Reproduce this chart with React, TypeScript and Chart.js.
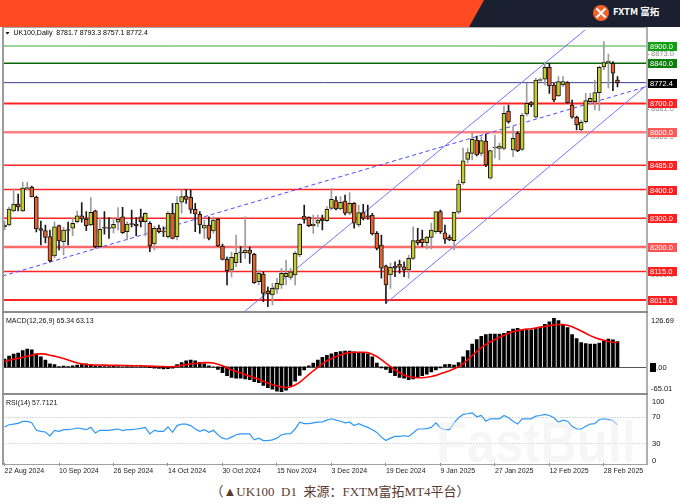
import React, { useEffect, useRef } from "react";
import { Chart, registerables } from "chart.js";

Chart.register(...registerables);

const FONT = "'Liberation Sans', Arial, sans-serif";

// ---------- data ----------
const tickDates = ["22 Aug 2024", "10 Sep 2024", "26 Sep 2024", "14 Oct 2024", "30 Oct 2024", "15 Nov 2024", "3 Dec 2024", "19 Dec 2024", "9 Jan 2025", "27 Jan 2025", "12 Feb 2025", "28 Feb 2025"];
const tickIndices = [0, 12, 24, 36, 48, 60, 72, 84, 96, 108, 120, 132];

const opens = [8269.8, 8276.7, 8325.5, 8349.9, 8325.5, 8403.8, 8409.1, 8374.2, 8264.6, 8256.9,
  8236.0, 8168.8, 8274.3, 8218.6, 8259.3, 8265.3, 8288.2, 8309.1, 8296.6, 8276.7,
  8326.5, 8201.2, 8268.0, 8266.3, 8265.3, 8286.2, 8305.6, 8253.4, 8282.0, 8280.2,
  8305.6, 8288.2, 8282.7, 8210.6, 8265.3, 8253.4, 8236.0, 8317.5, 8236.0, 8355.8,
  8377.7, 8373.2, 8331.4, 8314.0, 8265.3, 8276.7, 8255.9, 8296.6, 8203.6, 8157.3,
  8120.1, 8145.5, 8180.3, 8180.3, 8189.7, 8174.7, 8079.3, 8106.1, 8046.9, 8033.0,
  8052.9, 8067.8, 8096.7, 8094.6, 8102.6, 8172.3, 8308.1, 8303.6, 8273.3, 8282.7,
  8296.6, 8291.7, 8334.9, 8361.4, 8332.5, 8360.3, 8317.5, 8352.3, 8276.7, 8319.6,
  8307.0, 8311.6, 8247.8, 8207.1, 8135.0, 8102.6, 8134.0, 8139.9, 8131.5, 8120.1,
  8160.8, 8224.5, 8228.0, 8215.1, 8233.9, 8253.4, 8323.1, 8249.9, 8233.9, 8222.1,
  8321.0, 8423.0, 8505.5, 8526.4, 8572.7, 8526.4, 8569.2, 8439.4, 8544.9, 8543.8,
  8543.8, 8673.7, 8537.9, 8596.1, 8540.3, 8663.3, 8702.6, 8651.8, 8779.9, 8784.1,
  8825.9, 8764.2, 8725.9, 8764.2, 8772.2, 8694.6, 8651.8, 8607.5, 8636.4, 8706.1,
  8706.1, 8737.4, 8826.9, 8842.6, 8839.8, 8781.7];

const highs = [8290.7, 8339.4, 8402.1, 8384.7, 8426.5, 8426.5, 8412.5, 8377.7, 8290.7, 8276.7,
  8259.3, 8288.2, 8276.7, 8269.8, 8287.2, 8302.2, 8325.5, 8354.4, 8323.1, 8371.8,
  8329.0, 8300.1, 8323.1, 8302.2, 8301.1, 8337.0, 8338.4, 8288.2, 8329.0, 8302.2,
  8332.5, 8319.6, 8288.2, 8273.3, 8276.7, 8270.8, 8323.1, 8352.3, 8375.3, 8398.6,
  8401.1, 8398.6, 8352.3, 8323.1, 8294.2, 8305.6, 8305.6, 8300.1, 8210.6, 8165.3,
  8182.7, 8241.9, 8201.2, 8305.6, 8200.1, 8178.2, 8120.1, 8114.1, 8060.9, 8073.7,
  8091.2, 8126.0, 8154.9, 8126.0, 8183.8, 8282.7, 8346.4, 8305.6, 8311.6, 8311.6,
  8311.6, 8340.5, 8404.5, 8375.3, 8375.3, 8381.2, 8389.2, 8354.4, 8346.4, 8348.8,
  8346.4, 8317.5, 8253.4, 8241.9, 8137.5, 8144.4, 8148.9, 8154.9, 8148.9, 8172.3,
  8270.8, 8265.3, 8259.3, 8238.4, 8283.7, 8317.5, 8329.0, 8276.7, 8241.9, 8322.0,
  8433.4, 8544.9, 8544.9, 8597.1, 8586.6, 8584.2, 8593.6, 8537.9, 8590.1, 8562.3,
  8691.1, 8694.6, 8619.0, 8601.6, 8665.7, 8770.2, 8706.1, 8787.6, 8788.6, 8839.8,
  8839.8, 8770.2, 8793.1, 8793.1, 8775.7, 8712.0, 8656.3, 8642.4, 8735.3, 8735.3,
  8781.6, 8830.4, 8915.0, 8872.2, 8845.4, 8793.3];

const lows = [8259.3, 8273.3, 8322.0, 8325.5, 8322.0, 8398.6, 8374.2, 8252.4, 8207.1, 8214.1,
  8147.9, 8161.8, 8189.7, 8172.3, 8207.1, 8239.5, 8283.7, 8286.2, 8256.9, 8273.3,
  8196.7, 8198.4, 8244.4, 8230.4, 8248.9, 8259.3, 8247.1, 8224.5, 8269.8, 8239.5,
  8269.8, 8238.4, 8183.8, 8189.7, 8248.9, 8236.0, 8230.4, 8228.0, 8224.5, 8317.5,
  8352.3, 8317.5, 8253.4, 8247.8, 8230.4, 8224.5, 8247.8, 8201.2, 8154.9, 8067.8,
  8095.7, 8131.5, 8145.5, 8160.8, 8143.4, 8073.7, 8067.8, 8009.7, 7992.3, 7998.2,
  8038.9, 8056.3, 8067.8, 8085.2, 8067.8, 8166.4, 8282.7, 8270.8, 8247.8, 8270.8,
  8259.3, 8288.2, 8329.0, 8329.0, 8329.0, 8311.6, 8311.6, 8265.3, 8270.8, 8294.2,
  8296.6, 8241.9, 8189.7, 8091.2, 8004.1, 8056.3, 8096.7, 8108.6, 8096.7, 8091.2,
  8154.9, 8207.1, 8201.2, 8193.2, 8193.2, 8247.8, 8247.8, 8213.0, 8222.1, 8189.7,
  8315.1, 8417.8, 8492.6, 8503.1, 8517.0, 8517.0, 8479.8, 8435.9, 8510.0, 8503.1,
  8537.9, 8630.9, 8514.6, 8532.0, 8535.5, 8656.3, 8688.7, 8648.3, 8776.4, 8764.2,
  8735.3, 8706.1, 8723.5, 8758.3, 8700.5, 8648.3, 8607.5, 8601.6, 8630.9, 8698.1,
  8677.2, 8674.7, 8816.5, 8753.8, 8744.4, 8757.1];

const closes = [8276.7, 8332.5, 8349.9, 8339.4, 8405.6, 8405.6, 8374.2, 8262.8, 8257.6, 8233.9,
  8151.4, 8270.8, 8221.0, 8259.3, 8257.6, 8282.7, 8309.1, 8297.6, 8274.3, 8321.0,
  8201.2, 8261.8, 8265.3, 8264.6, 8279.2, 8296.6, 8249.9, 8280.2, 8278.5, 8273.3,
  8288.2, 8317.5, 8203.6, 8265.3, 8253.4, 8252.4, 8317.5, 8230.4, 8352.3, 8375.3,
  8366.2, 8331.4, 8315.1, 8276.7, 8276.7, 8230.4, 8294.2, 8203.6, 8157.3, 8117.6,
  8164.3, 8178.2, 8179.2, 8189.7, 8178.2, 8075.8, 8108.6, 8038.9, 8036.5, 8056.3,
  8073.7, 8108.6, 8108.6, 8114.1, 8178.2, 8279.2, 8296.6, 8274.3, 8280.2, 8294.2,
  8291.7, 8331.4, 8366.2, 8332.5, 8355.8, 8317.5, 8352.3, 8282.7, 8319.6, 8300.1,
  8305.6, 8245.4, 8195.6, 8126.0, 8067.8, 8129.5, 8126.0, 8129.5, 8120.1, 8160.8,
  8222.1, 8215.1, 8214.1, 8235.0, 8259.3, 8323.1, 8253.4, 8227.0, 8224.5, 8321.0,
  8419.5, 8500.6, 8528.5, 8575.2, 8520.5, 8570.3, 8485.7, 8535.5, 8548.3, 8551.8,
  8665.7, 8636.4, 8578.6, 8535.5, 8659.8, 8700.5, 8694.6, 8781.6, 8781.6, 8825.9,
  8760.7, 8712.0, 8775.7, 8775.7, 8702.6, 8651.8, 8624.9, 8634.4, 8709.6, 8717.9,
  8737.4, 8825.9, 8842.6, 8847.8, 8805.0, 8772.4];

const macdHist = [20.5, 28, 33, 36, 42.6, 46, 44, 34, 26, 18,
  8, 6, 1, 2, 1, 3, 5, 6, 8, 6.5,
  3, 2, 1, 1, 2, 1, 0.5, 1, 1, 0.5,
  1, 1.5, -2, -3, -4, -5, -4.5, -3, 6, 11.5,
  16, 18, 16, 12, 8, 3, 0.5, -6.5, -15, -23,
  -27, -29, -29.5, -31, -33, -38, -41, -48, -54, -58,
  -63, -65.01, -60, -50, -37, -22, -8, 3, 10, 18,
  24.5, 30, 34, 37.7, 40, 41, 41, 39, 37, 37,
  34, 26, 10, -2.5, -6.5, -15, -23, -27, -29.5, -33,
  -31, -27, -23, -19, -13, -8, -2.5, 6, 6.5, 5,
  11.5, 26, 42.6, 59, 71, 79.4, 83.5, 85, 85, 85,
  87, 92, 98, 100, 95, 96, 96, 100, 101.6, 110,
  117, 126.69, 120, 108, 101.6, 83.5, 73.7, 63, 60.6, 59,
  59, 62, 67, 72, 70.4, 65.34];

const macdSignal = [14, 17, 20, 22, 25, 28, 30, 33, 34, 33,
  30, 28, 25, 22, 18, 14, 10, 8, 6, 5.5,
  5, 5, 4.5, 4, 4, 4, 3.5, 3.5, 3, 3,
  3, 2.5, 2, 1.5, 1, 1, 0.5, 0.5, 2, 4,
  6, 7.5, 9, 10, 11, 11, 10, 7, 3, -2,
  -8, -12, -16, -20, -24, -28, -32, -37, -42, -46,
  -49, -52, -53, -52, -47, -40, -30, -20, -10, -1,
  8, 16, 22, 27, 31, 35, 37, 38, 38, 38,
  37, 33, 27, 19, 10, 1, -8, -15, -21, -25,
  -27, -28, -28, -27, -25, -22, -18, -14, -10, -5,
  0, 8, 18, 29, 40, 50, 58, 65, 71, 77,
  82, 87, 91, 94, 96, 98, 99, 101, 103, 105,
  107, 109, 110, 110, 108, 104, 99, 93, 87, 81,
  76, 72, 69, 66, 64, 63.13];

const rsiValues = [54.6, 58, 59, 60, 63, 63, 61, 49.5, 48, 47,
  41, 49.5, 48, 50.5, 50.5, 51.5, 53, 52, 50.5, 54,
  45.4, 49.5, 49.5, 49.5, 50.5, 51.5, 49, 50.5, 50.5, 51.5,
  52.5, 54, 44, 49.5, 48, 48, 54.6, 46.4, 56.7, 59,
  59, 56.7, 51.5, 48, 50.5, 46.4, 49.5, 42.8, 37.7, 36,
  39.2, 42.8, 44, 44, 44, 35, 37.7, 34, 34, 35,
  37.7, 42.8, 44, 44.4, 51.5, 61.8, 59.7, 59.7, 60.8, 61.8,
  62.3, 64.9, 67, 64.9, 63.3, 60.8, 61.8, 56.7, 59.7, 56.7,
  54, 50.5, 46.4, 39.2, 34, 37.7, 40.3, 40.3, 41.3, 40.3,
  45.4, 51.5, 51.5, 52, 54, 60.8, 53, 50.5, 50.5, 60.8,
  68.5, 73.6, 74.6, 76, 70, 72, 63.3, 67, 67, 67,
  72, 68.5, 63.3, 59, 67, 67, 67, 71, 72, 73.6,
  72, 68.5, 61.8, 64.9, 63.3, 55.6, 51.5, 51.5, 55.6, 59,
  59.7, 65.9, 67, 65.9, 64.4, 57.7121];

const levelPrices = [8900, 8840, 8772.4, 8700, 8600, 8485, 8400, 8300, 8200, 8115, 8015.6];
const priceScaleTicks = [8873, 8777, 8681, 8585, 8489, 8393, 8297, 8201, 8105, 8009];
const channelUpper = [{ x: 53.0, y: 7977.3 }, { x: 128.39, y: 8962.7 }];
const channelLower = [{ x: 84, y: 8004.1 }, { x: 141.5, y: 8764.2 }];
const trendDashed = [{ x: -0.45, y: 8099 }, { x: 141.5, y: 8759 }];
const macdRange = [-65.01, 126.69];
const rsiGuides = [70, 30];
const rsiAxisLabels = [100, 70, 30, 0];

// ---------- styles ----------
const X_MIN = -0.45;
const X_MAX = 141.5;
const BULL = "#c5cd2d";
const BEAR = "#e3632b";
const levelLineColors = ["#38a838", "#0b650b", "#3d3d90", "#ff2424", "#ff8080", "#ff2424", "#ff2424", "#ff2424", "#ff6a6a", "#ff2424", "#ff2424"];
const levelLineWidths = [1, 1.5, 1, 2, 2.5, 1.5, 1.5, 1.5, 2.5, 1.5, 2];
const levelBoxColors = ["#12a012", "#0a7f0a", "#000000", "#ff1f1f", "#ff5a5a", "#ff1f1f", "#ff1f1f", "#ff1f1f", "#ff5252", "#ff1f1f", "#ff1f1f"];

const xScale = (extra: any = {}) => ({ type: "linear", min: X_MIN, max: X_MAX, offset: false, display: false, ...extra });

export default function App() {
  const mainRef = useRef<HTMLCanvasElement>(null);
  const macdRef = useRef<HTMLCanvasElement>(null);
  const rsiRef = useRef<HTMLCanvasElement>(null);

  useEffect(() => {
    Chart.defaults.font.family = FONT;
    const n = closes.length;
    const idx = closes.map((_, i) => i);
    const up = idx.map((i) => closes[i] >= opens[i]);

    const mainOverlay = {
      id: "mainOverlay",
      afterDraw(chart: any) {
        const { ctx } = chart;
        const y = chart.scales.y;
        ctx.save();
        ctx.textBaseline = "middle";
        ctx.textAlign = "left";
        ctx.font = `7.5px ${FONT}`;
        priceScaleTicks.forEach((v) => {
          const py = y.getPixelForValue(v);
          ctx.fillStyle = "#8a8a8a";
          ctx.fillRect(646, Math.round(py), 3, 1);
          ctx.fillText(v.toFixed(1), 651, py + 0.5);
        });
        levelPrices.forEach((v, k) => {
          const py = Math.round(y.getPixelForValue(v));
          ctx.fillStyle = levelBoxColors[k];
          ctx.fillRect(648, py - 4, 29, 9);
          ctx.fillStyle = "#ffffff";
          ctx.fillText(v.toFixed(1), 650, py + 0.8);
        });
        ctx.fillStyle = "#000";
        ctx.beginPath();
        ctx.moveTo(5.5, 4);
        ctx.lineTo(9.5, 4);
        ctx.lineTo(7.5, 6.5);
        ctx.closePath();
        ctx.fill();
        ctx.font = `7px ${FONT}`;
        ctx.fillText(
          `UK100,Daily  ${opens[n - 1].toFixed(1)} ${highs[n - 1].toFixed(1)} ${lows[n - 1].toFixed(1)} ${closes[n - 1].toFixed(1)}`,
          13.5, 5.5
        );
        ctx.restore();
      },
    };

    const lineDs = (data: any[], color: string, width: number, order: number, dash: number[] = []) => ({
      type: "line",
      data,
      borderColor: color,
      borderWidth: width,
      borderDash: dash,
      pointRadius: 0,
      fill: false,
      order,
    });

    const main = new Chart(mainRef.current as HTMLCanvasElement, {
      type: "bar",
      data: {
        datasets: [
          {
            type: "bar",
            data: idx.map((i) => ({ x: i, y: [opens[i], closes[i]] })),
            backgroundColor: idx.map((i) => (up[i] ? BULL : BEAR)),
            borderColor: "#151515",
            borderWidth: 1,
            borderSkipped: false,
            barThickness: 4,
            minBarLength: 1,
            grouped: false,
            order: 0,
          },
          {
            type: "bar",
            data: idx.map((i) => ({ x: i, y: [lows[i], highs[i]] })),
            backgroundColor: idx.map((i) => (up[i] ? "#9c9c9c" : "#1a1a1a")),
            barThickness: 1,
            grouped: false,
            order: 1,
          },
          lineDs(channelUpper, "#7474ff", 1, 2),
          lineDs(channelLower, "#7474ff", 1, 2),
          lineDs(trendDashed, "#4b4bff", 1, 2, [4, 3]),
          ...levelPrices.map((v, k) =>
            lineDs([{ x: X_MIN - 1, y: v }, { x: X_MAX + 1, y: v }], levelLineColors[k], levelLineWidths[k], 3)
          ),
        ] as any,
      },
      options: {
        responsive: false,
        animation: false,
        events: [],
        layout: { padding: { left: 2.5, right: 33, top: 2, bottom: 1 } },
        plugins: { legend: { display: false }, tooltip: { enabled: false } },
        scales: {
          x: xScale() as any,
          y: { type: "linear", min: 7977.3, max: 8955.7, display: false },
        },
      },
      plugins: [mainOverlay],
    });

    const macdOverlay = {
      id: "macdOverlay",
      beforeDatasetsDraw(chart: any) {
        const { ctx, chartArea } = chart;
        const py = Math.round(chart.scales.y.getPixelForValue(0)) + 0.5;
        ctx.save();
        ctx.strokeStyle = "#555";
        ctx.lineWidth = 1;
        ctx.beginPath();
        ctx.moveTo(chartArea.left, py);
        ctx.lineTo(chartArea.right, py);
        ctx.stroke();
        ctx.restore();
      },
      afterDraw(chart: any) {
        const { ctx } = chart;
        const y = chart.scales.y;
        ctx.save();
        ctx.textBaseline = "middle";
        ctx.textAlign = "left";
        ctx.font = `7px ${FONT}`;
        ctx.fillStyle = "#111";
        ctx.fillText(
          `MACD(12,26,9) ${macdHist[macdHist.length - 1].toFixed(2)} ${macdSignal[macdSignal.length - 1].toFixed(2)}`,
          6, 8
        );
        ctx.font = `7.5px ${FONT}`;
        ctx.fillText(macdRange[1].toFixed(2), 651, 8);
        ctx.fillText(macdRange[0].toFixed(2), 651, 76);
        const z = Math.round(y.getPixelForValue(0));
        ctx.fillText((0).toFixed(2), 652, z + 0.5);
        ctx.fillStyle = "#000";
        ctx.fillRect(650, z - 4, 6, 9);
        ctx.restore();
      },
    };

    const macd = new Chart(macdRef.current as HTMLCanvasElement, {
      type: "bar",
      data: {
        datasets: [
          {
            type: "bar",
            data: idx.map((i) => ({ x: i, y: macdHist[i] })),
            backgroundColor: "#000",
            barThickness: 3,
            grouped: false,
            order: 1,
          },
          lineDs(idx.map((i) => ({ x: i, y: macdSignal[i] })), "#ff0000", 1.6, 0),
        ] as any,
      },
      options: {
        responsive: false,
        animation: false,
        events: [],
        layout: { padding: { left: 2.5, right: 33, top: 5, bottom: 1 } },
        plugins: { legend: { display: false }, tooltip: { enabled: false } },
        scales: {
          x: xScale() as any,
          y: { type: "linear", min: macdRange[0], max: macdRange[1], display: false },
        },
      },
      plugins: [macdOverlay],
    });

    const rsiOverlay = {
      id: "rsiOverlay",
      beforeDatasetsDraw(chart: any) {
        const { ctx, chartArea } = chart;
        const y = chart.scales.y;
        ctx.save();
        ctx.strokeStyle = "#b4b4b4";
        ctx.lineWidth = 1;
        ctx.setLineDash([1, 2]);
        rsiGuides.forEach((v) => {
          const py = Math.round(y.getPixelForValue(v)) + 0.5;
          ctx.beginPath();
          ctx.moveTo(chartArea.left, py);
          ctx.lineTo(chartArea.right, py);
          ctx.stroke();
        });
        ctx.restore();
      },
      afterDatasetsDraw(chart: any) {
        const { ctx } = chart;
        ctx.save();
        ctx.font = `bold 58px ${FONT}`;
        ctx.textBaseline = "alphabetic";
        ctx.textAlign = "left";
        const w = ctx.measureText("FastBull").width;
        ctx.translate(436, 67);
        ctx.scale(200 / w, 1);
        ctx.fillStyle = "rgba(255,255,255,0.55)";
        ctx.fillText("FastBull", 0, 0);
        ctx.fillStyle = "rgba(0,0,0,0.035)";
        ctx.fillText("FastBull", 0, 0);
        ctx.restore();
      },
      afterDraw(chart: any) {
        const { ctx } = chart;
        const y = chart.scales.y;
        ctx.save();
        ctx.textBaseline = "middle";
        ctx.textAlign = "left";
        ctx.fillStyle = "#111";
        ctx.font = `7px ${FONT}`;
        ctx.fillText(`RSI(14) ${rsiValues[rsiValues.length - 1].toFixed(4)}`, 6, 8);
        ctx.font = `7.5px ${FONT}`;
        rsiAxisLabels.forEach((v) => {
          let py = y.getPixelForValue(v);
          if (v === 100) py += 4;
          if (v === 0) py -= 3;
          ctx.fillText(String(v), 652, py + 0.5);
        });
        ctx.restore();
      },
    };

    const rsi = new Chart(rsiRef.current as HTMLCanvasElement, {
      type: "line",
      data: {
        datasets: [
          {
            data: idx.map((i) => ({ x: i, y: rsiValues[i] })),
            borderColor: "#2f97f5",
            borderWidth: 1.2,
            pointRadius: 0,
            fill: false,
            tension: 0,
          },
        ],
      },
      options: {
        responsive: false,
        animation: false,
        events: [],
        layout: { padding: { left: 2.5, right: 33, top: 2, bottom: 4 } },
        plugins: { legend: { display: false }, tooltip: { enabled: false } },
        scales: {
          x: xScale({
            display: true,
            afterBuildTicks: (s: any) => {
              s.ticks = tickIndices.map((v) => ({ value: v }));
            },
            afterFit: (s: any) => {
              s.height = 14;
            },
            ticks: {
              autoSkip: false,
              maxRotation: 0,
              minRotation: 0,
              align: "start",
              padding: 1,
              color: "#1a1a1a",
              font: { family: FONT, size: 7 },
              callback: (v: any) => {
                const k = tickIndices.indexOf(Number(v));
                return k >= 0 ? tickDates[k] : "";
              },
            },
            grid: { drawOnChartArea: false, drawTicks: true, tickLength: 3, color: "#808080" },
            border: { display: false },
          }) as any,
          y: { type: "linear", min: 0, max: 100, display: false },
        },
      },
      plugins: [rsiOverlay],
    });

    return () => {
      main.destroy();
      macd.destroy();
      rsi.destroy();
    };
  }, []);

  const abs = (s: any) => ({ position: "absolute", ...s } as React.CSSProperties);

  return (
    <div style={{ position: "fixed", left: 0, top: 0, width: 680, height: 504, background: "#fff", overflow: "hidden" }}>
      <svg width={680} height={27} style={abs({ left: 0, top: 0 })}>
        <rect x={0} y={0} width={680} height={27} fill="#ff4a22" />
        <polygon points="484,0 680,0 680,27 469,27" fill="#1b2030" />
        <circle cx={601} cy={13} r={8} fill="#f2622a" />
        <path d="M596.5 8.5 Q601 13 605.5 17.5 M605.5 8.5 Q601 13 596.5 17.5" stroke="#fff" strokeWidth={2} fill="none" />
        <text x={613} y={15} fill="#ffffff" fontSize={9.5} fontWeight={700} fontFamily="'Noto Sans CJK SC', 'Liberation Sans', sans-serif">FXTM 富拓</text>
      </svg>
      <canvas ref={mainRef} width={680} height={284} style={abs({ left: 0, top: 28 })} />
      <canvas ref={macdRef} width={680} height={80} style={abs({ left: 0, top: 313 })} />
      <canvas ref={rsiRef} width={680} height={86} style={abs({ left: 0, top: 395 })} />
      <div style={abs({ left: 3, top: 27, width: 644, height: 1, background: "#a8a8a8" })} />
      <div style={abs({ left: 2, top: 27, width: 2, height: 438, background: "#9c9c9c" })} />
      <div style={abs({ left: 646, top: 27, width: 2, height: 438, background: "#b0b0b0" })} />
      <div style={abs({ left: 2, top: 311, width: 646, height: 2, background: "#8c8c8c" })} />
      <div style={abs({ left: 2, top: 393, width: 646, height: 2, background: "#8c8c8c" })} />
      <div style={abs({ left: 2, top: 464, width: 646, height: 1, background: "#a0a0a0" })} />
      <div
        style={abs({
          left: 0,
          top: 484,
          width: 680,
          textAlign: "center",
          fontFamily: "'Liberation Serif', 'Noto Sans CJK SC', serif",
          fontSize: 13,
          color: "#5e3a2e",
          whiteSpace: "pre",
          lineHeight: "16px",
        })}
      >
        {"（▲UK100  D1  来源：FXTM富拓MT4平台）"}
      </div>
    </div>
  );
}
